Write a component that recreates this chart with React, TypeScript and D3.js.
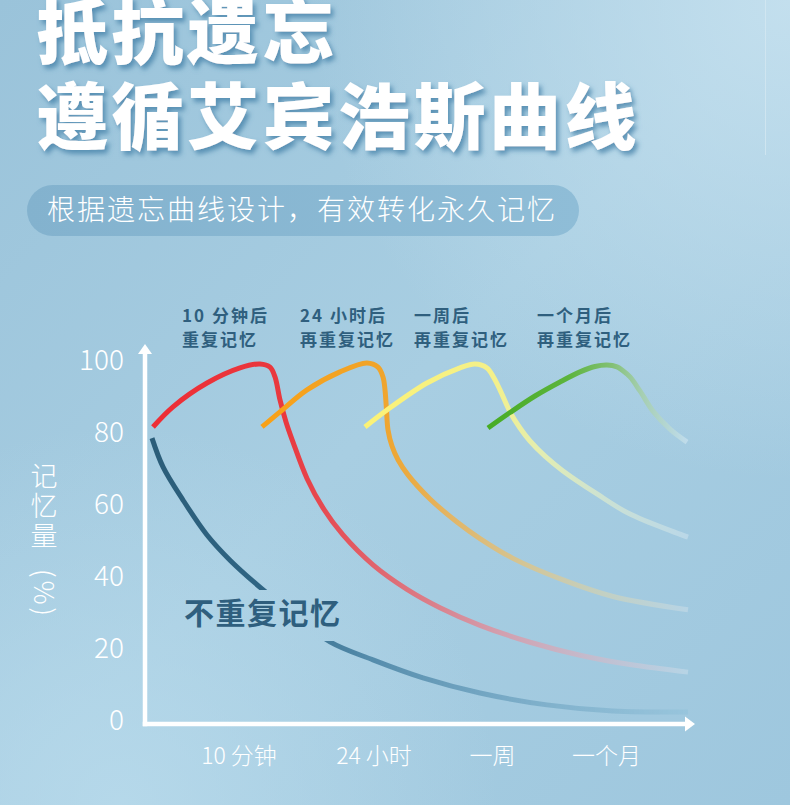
import React from "react";
import * as d3 from "d3";

const W = 790;
const H = 805;
const FONT = "'Noto Sans CJK SC', 'Noto Sans', sans-serif";

// ---- data (x in time units 0..110, y = memory %) ----
const noReview: [number, number][] = [
  [1.4, 78.3], [3.6, 70.3], [7.6, 61.1], [12.4, 51.4], [17, 44.4],
  [23.4, 36.4], [30.2, 28.8], [37, 21.7], [45.6, 16.7], [55.6, 11.7],
  [67, 7.5], [80.4, 4.2], [93.6, 2.5], [108.6, 2.2],
];
const review10min: [number, number][] = [
  [1.6, 81.4], [5.6, 87], [12.4, 93.6], [19, 97.8], [23, 98.9], [25, 98],
  [26, 95.3], [27, 88.9], [28.2, 82.8], [29.6, 77.2], [32.4, 67.1], [35.6, 58.9],
  [39.6, 51.4], [45.6, 43.1], [52.4, 36.3], [59, 31.2], [67, 26.3], [77, 21.6],
  [87, 18], [97, 15.4], [108.6, 13.3],
];
const review24h: [number, number][] = [
  [23.4, 81.4], [27, 85.6], [32.4, 91.7], [39, 96.7], [44.4, 99.2], [46.6, 98],
  [47.6, 95.3], [48, 91.7], [48.3, 86.1], [48.6, 80.6], [49.4, 76.1], [50.6, 72.3],
  [52.6, 68.1], [57, 61.4], [62.4, 55], [67, 50.4], [73.6, 44.9], [83.6, 38.9],
  [93.6, 34.3], [108.6, 30.6],
];
const reviewWeek: [number, number][] = [
  [44, 81.4], [48.4, 86.1], [56.4, 93.6], [63, 97.8], [66, 98.9], [68.4, 97.8],
  [69.8, 95], [71, 91.7], [73, 85.6], [75, 81.1], [77, 77.5], [80, 73.3],
  [83.6, 69.2], [90.4, 62.8], [97, 57.2], [108.6, 50.8],
];
const reviewMonth: [number, number][] = [
  [68.6, 81.1], [73, 85.4], [78, 90], [83, 93.9], [87, 96.7], [90, 98.2],
  [92.4, 98.6], [94.4, 98.1], [95.4, 97.2], [97, 95.3], [99, 91.4], [101.6, 85.8],
  [105, 80.8], [108.4, 77.2],
];

const yTicks = [0, 20, 40, 60, 80, 100];
const xTickLabels = ["10 分钟", "24 小时", "一周", "一个月"];
const xTickValues = [18.8, 45.8, 69.5, 92.3];
const noteLine1 = ["10 分钟后", "24 小时后", "一周后", "一个月后"];
const noteLine2 = ["重复记忆", "再重复记忆", "再重复记忆", "再重复记忆"];
const noteValues = [7.4, 31, 53.8, 78.4];

const titleLine1 = "抵抗遗忘";
const titleLine2 = "遵循艾宾浩斯曲线";
const subtitle = "根据遗忘曲线设计，有效转化永久记忆";
const yAxisLabel = ["记", "忆", "量"];
const noReviewLabel = "不重复记忆";

type Stop = [number, string, number];
const series: { id: string; data: [number, number][]; stops: Stop[] }[] = [
  {
    id: "g-none",
    data: noReview,
    stops: [
      [0, "#2b5d79", 1],
      [0.22, "#2f6584", 1],
      [0.4, "#4f87a7", 0.95],
      [0.65, "#6fa3c0", 0.85],
      [1, "#94c3db", 0.7],
    ],
  },
  {
    id: "g-10m",
    data: review10min,
    stops: [
      [0, "#ee2d35", 1],
      [0.25, "#e9393f", 1],
      [0.45, "#df6d76", 1],
      [0.65, "#d59dac", 0.95],
      [0.85, "#c6bfd0", 0.85],
      [1, "#bcd7e7", 0.8],
    ],
  },
  {
    id: "g-24h",
    data: review24h,
    stops: [
      [0, "#f8a117", 1],
      [0.28, "#f0a42b", 1],
      [0.45, "#e2b668", 1],
      [0.62, "#d6c592", 0.95],
      [0.8, "#c8d1bd", 0.85],
      [1, "#bdd7e6", 0.8],
    ],
  },
  {
    id: "g-week",
    data: reviewWeek,
    stops: [
      [0, "#fbf276", 1],
      [0.4, "#f4f08a", 1],
      [0.55, "#e6efb0", 0.95],
      [0.75, "#d2e5d2", 0.85],
      [1, "#c0dbea", 0.8],
    ],
  },
  {
    id: "g-month",
    data: reviewMonth,
    stops: [
      [0, "#47ac24", 1],
      [0.4, "#5cb43d", 1],
      [0.62, "#80bf6e", 0.95],
      [0.78, "#a6cfab", 0.85],
      [1, "#c6e0ee", 0.8],
    ],
  },
];

export default function App() {
  const x = d3.scaleLinear().domain([0, 110]).range([145, 695]);
  const y = d3.scaleLinear().domain([0, 100]).range([720, 360]);
  const line = d3
    .line<[number, number]>()
    .x((d) => x(d[0]))
    .y((d) => y(d[1]))
    .curve(d3.curveCatmullRom.alpha(0.5));

  const axisX0 = x(0);
  const axisY0 = y(0) + 4;
  const yTop = y(100) - 16;
  const xEnd = x(110);

  return (
    <svg
      width={W}
      height={H}
      viewBox={`0 0 ${W} ${H}`}
      style={{ position: "absolute", left: 0, top: 0, display: "block" }}
      fontFamily={FONT}
    >
      <defs>
        <linearGradient id="bg" x1="0" y1="0" x2="1" y2="1">
          <stop offset="0" stopColor="#9ac3da" />
          <stop offset="0.5" stopColor="#a8cee2" />
          <stop offset="1" stopColor="#9ec7de" />
        </linearGradient>
        <radialGradient id="hl1" cx="790" cy="0" r="480" gradientUnits="userSpaceOnUse">
          <stop offset="0" stopColor="#c6e1ef" stopOpacity="0.9" />
          <stop offset="1" stopColor="#c6e1ef" stopOpacity="0" />
        </radialGradient>
        <radialGradient id="hl2" cx="120" cy="805" r="380" gradientUnits="userSpaceOnUse">
          <stop offset="0" stopColor="#b9dbec" stopOpacity="0.8" />
          <stop offset="1" stopColor="#b9dbec" stopOpacity="0" />
        </radialGradient>
        <linearGradient id="pill" x1="0" y1="0" x2="1" y2="0">
          <stop offset="0" stopColor="#83b2ce" />
          <stop offset="1" stopColor="#8fbdd7" />
        </linearGradient>
        <filter id="tshadow" x="-10%" y="-20%" width="130%" height="150%">
          <feDropShadow dx="3" dy="4" stdDeviation="2.5" floodColor="#3f7ea6" floodOpacity="0.75" />
        </filter>
        {series.map((s) => (
          <linearGradient
            key={s.id}
            id={s.id}
            gradientUnits="userSpaceOnUse"
            x1={x(s.data[0][0])}
            y1={0}
            x2={x(s.data[s.data.length - 1][0])}
            y2={0}
          >
            {s.stops.map((st, i) => (
              <stop key={i} offset={st[0]} stopColor={st[1]} stopOpacity={st[2]} />
            ))}
          </linearGradient>
        ))}
        <mask id="labelGap" maskUnits="userSpaceOnUse" x="0" y="0" width={W} height={H}>
          <rect x="0" y="0" width={W} height={H} fill="white" />
          <rect x="175" y="590" width="170" height="51" fill="black" />
        </mask>
      </defs>

      {/* background */}
      <rect x="0" y="0" width={W} height={H} fill="url(#bg)" />
      <rect x="0" y="0" width={W} height={H} fill="url(#hl1)" />
      <rect x="0" y="0" width={W} height={H} fill="url(#hl2)" />
      <line x1="765.5" y1="0" x2="765.5" y2="155" stroke="#d4e8f2" strokeWidth="1" opacity="0.8" />

      {/* title */}
      <g filter="url(#tshadow)" fill="#ffffff" fontWeight="900" fontSize="72" letterSpacing="3.5">
        <text x="36" y="58">{titleLine1}</text>
        <text x="36" y="143">{titleLine2}</text>
      </g>

      {/* subtitle pill */}
      <rect x="27" y="185" width="552" height="51" rx="25.5" fill="url(#pill)" />
      <text x="47" y="220" fill="#ffffff" fontSize="28" fontWeight="300" letterSpacing="2">
        {subtitle}
      </text>

      {/* annotations */}
      <g fill="#2f5f7e" fontWeight="700" fontSize="17" letterSpacing="2">
        {noteValues.map((v, i) => (
          <g key={i}>
            <text x={x(v)} y="322">{noteLine1[i]}</text>
            <text x={x(v)} y="346">{noteLine2[i]}</text>
          </g>
        ))}
      </g>

      {/* y tick labels */}
      <g fill="#ffffff" fontSize="28" fontWeight="300" textAnchor="end">
        {yTicks.map((t) => (
          <text key={t} x="124" y={y(t) + 10}>
            {t}
          </text>
        ))}
      </g>

      {/* y axis label */}
      <g fill="#ffffff" fontSize="27" fontWeight="300" textAnchor="middle">
        {yAxisLabel.map((c, i) => (
          <text key={i} x="44" y={486 + i * 30}>
            {c}
          </text>
        ))}
        <text
          x="0"
          y="0"
          transform="translate(34,594) rotate(90)"
          letterSpacing="3"
          textAnchor="middle"
        >
          (%)
        </text>
      </g>

      {/* x tick labels */}
      <g fill="#ffffff" fontSize="23" fontWeight="300" textAnchor="middle">
        {xTickValues.map((v, i) => (
          <text key={i} x={x(v)} y="764">
            {xTickLabels[i]}
          </text>
        ))}
      </g>

      {/* curves */}
      <g fill="none" strokeWidth="5" strokeLinecap="butt" strokeLinejoin="round">
        <path d={line(noReview) || ""} stroke="url(#g-none)" mask="url(#labelGap)" />
        {series.slice(1).map((s) => (
          <path key={s.id} d={line(s.data) || ""} stroke={`url(#${s.id})`} />
        ))}
      </g>

      <text x="184" y="624" fill="#2f5f7e" fontSize="30" fontWeight="700" letterSpacing="1.5">
        {noReviewLabel}
      </text>

      {/* axes */}
      <g stroke="#ffffff" strokeWidth="4.5" fill="none">
        <line x1={axisX0} y1={axisY0 + 2.25} x2={axisX0} y2={yTop + 8} />
        <line x1={axisX0 - 2.25} y1={axisY0} x2={xEnd - 9} y2={axisY0} />
      </g>
      <path
        d={`M${axisX0},${yTop} L${axisX0 + 7},${yTop + 10} L${axisX0 - 7},${yTop + 10} Z`}
        fill="#ffffff"
      />
      <path
        d={`M${xEnd},${axisY0} L${xEnd - 10},${axisY0 - 7.5} L${xEnd - 10},${axisY0 + 7.5} Z`}
        fill="#ffffff"
      />
    </svg>
  );
}
